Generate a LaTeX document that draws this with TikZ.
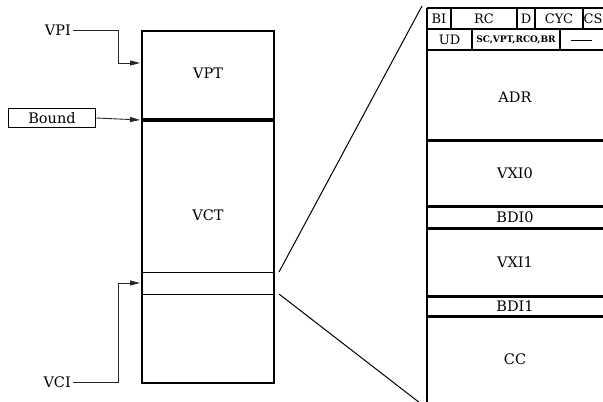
\documentclass[tikz,border=0pt]{standalone}
\usepackage{fontspec}
\setmainfont{DejaVu Serif}
\usetikzlibrary{arrows.meta}
\begin{document}
\begin{tikzpicture}[x=1pt,y=-1pt,
  lbl/.style={font=\fontsize{14.5}{16}\selectfont, inner sep=2pt},
  cell/.style={font=\fontsize{13}{15}\selectfont, inner sep=0pt},
  small/.style={font=\fontsize{9}{10}\selectfont\bfseries, inner sep=0pt},
  conn/.style={line width=0.9pt, draw=black!85},
  arr/.style={conn, -{Triangle[length=10pt,width=5pt]}, shorten >=1pt},
  boxline/.style={line width=2pt},
  heavy/.style={line width=3pt},
  thin/.style={line width=1pt}
]
\useasboundingbox (0,0) rectangle (603,402);
\clip (0,0) rectangle (603,402);

% left stack
\node[draw, boxline, anchor=north west, minimum width=132pt, minimum height=88pt, inner sep=0pt] (vpt) at (141,30) {};
\node[draw, boxline, anchor=north west, minimum width=132pt, minimum height=264pt, inner sep=0pt] (vct) at (141,118) {};
\draw[heavy] (vpt.south west) -- (vpt.south east);
\node[lbl] (vptt) at (208,73) {VPT};
\node[lbl] (vctt) at (208,215) {VCT};
\coordinate (s1l) at (141,272); \coordinate (s1r) at (273,272);
\coordinate (s2l) at (141,294); \coordinate (s2r) at (273,294);
\draw[thin] (s1l) -- (s1r);
\draw[thin] (s2l) -- (s2r);

% inputs
\node[lbl, anchor=east] (vpi) at (73,30) {VPI};
\coordinate (vpiin) at (141,63);
\draw[arr] (vpi.east) -| (118,63) -- (vpiin);

\node[draw, line width=1.5pt, minimum width=87pt, minimum height=19pt, inner sep=0pt, font=\fontsize{14.5}{16}\selectfont] (bound) at (52,118) {Bound};
\draw[arr] (bound.east) -- (vpt.south west);

\node[lbl, anchor=east] (vci) at (73,382) {VCI};
\coordinate (vciin) at (141,283);
\draw[arr] (vci.east) -| (118,283) -- (vciin);

% zoom lines
\coordinate (z1) at (279,272);
\coordinate (z2) at (279,294);
\coordinate (t1) at (422,6);
\coordinate (t2) at (420,403);
\draw[thin] (z1) -- (t1);
\draw[thin] (z2) -- (t2);

% right structure
\coordinate (rt) at (427,8);
\coordinate (rb) at (427,404);
\draw[boxline] (rt) -- (rb);
\draw[boxline] (427,8) -- (606,8);
\draw[boxline] (427,29) -- (606,29);
\draw[boxline] (427,50) -- (606,50);
\draw[boxline] (451,8) -- (451,29);
\draw[boxline] (517,8) -- (517,29);
\draw[boxline] (535,8) -- (535,29);
\draw[boxline] (583,8) -- (583,29);
\draw[boxline] (472,29) -- (472,50);
\draw[boxline] (560,29) -- (560,50);
\draw[heavy] (427,140) -- (606,140);
\draw[heavy] (427,206) -- (606,206);
\draw[heavy] (427,228) -- (606,228);
\draw[heavy] (427,296) -- (606,296);
\draw[heavy] (427,316) -- (606,316);

\node[cell] (bi) at (439,19) {BI};
\node[cell] (rc) at (484,19) {RC};
\node[cell] (d) at (526,19) {D};
\node[cell] (cyc) at (559,19) {CYC};
\node[cell] (cs) at (593,19) {CS};
\node[cell] (ud) at (449.5,40) {UD};
\node[small] (sc) at (516,40) {SC,VPT,RCO,BR};
\coordinate (dash1) at (571,40); \coordinate (dash2) at (592,40);
\draw[thin] (dash1) -- (dash2);

\node[lbl] (adr) at (515,97) {ADR};
\node[lbl] (vxi0) at (515,173) {VXI0};
\node[lbl] (bdi0) at (515,217) {BDI0};
\node[lbl] (vxi1) at (515,262) {VXI1};
\node[lbl] (bdi1) at (515,306) {BDI1};
\node[lbl] (cc) at (515,359) {CC};
\end{tikzpicture}
\end{document}
